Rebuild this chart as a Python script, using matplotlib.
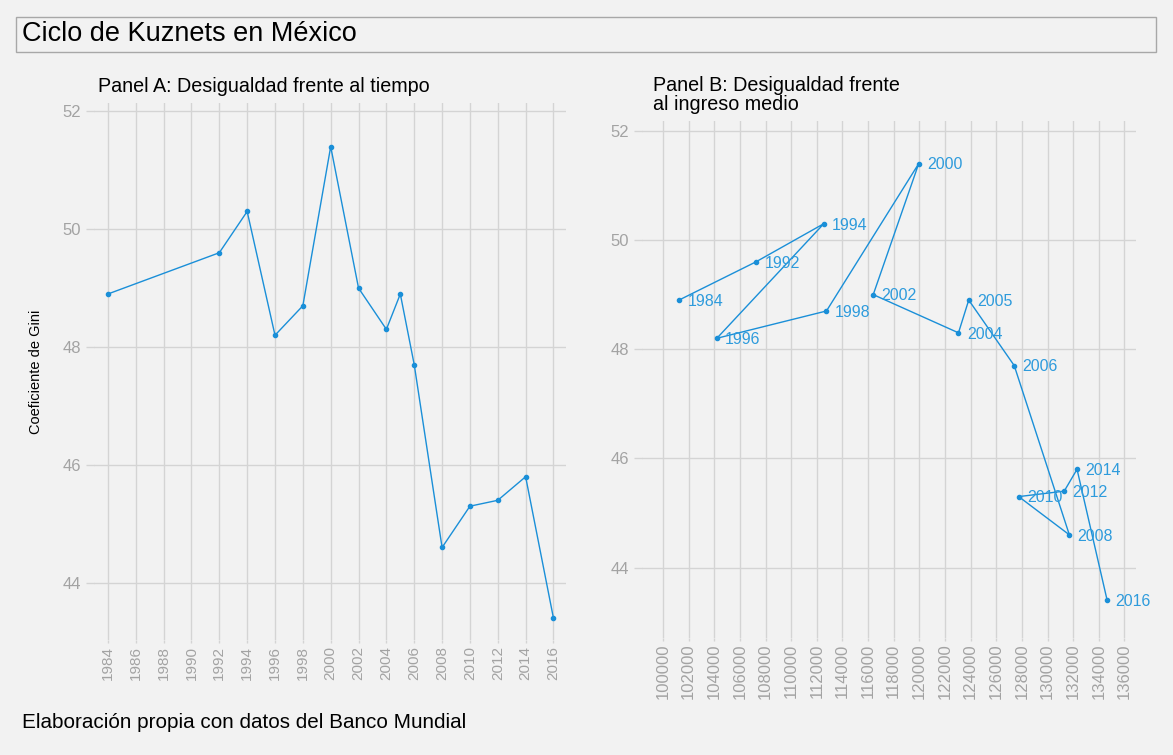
import numpy as np
import matplotlib.pyplot as plt
from matplotlib.patches import Rectangle

# Datos (Banco Mundial)
years = [1984, 1992, 1994, 1996, 1998, 2000, 2002, 2004, 2005, 2006, 2008, 2010, 2012, 2014, 2016]
gini = [48.9, 49.6, 50.3, 48.2, 48.7, 51.4, 49.0, 48.3, 48.9, 47.7, 44.6, 45.3, 45.4, 45.8, 43.4]
ingreso = [101250, 107250, 112550, 104200, 112750, 119950, 116400, 123050, 123850,
           127400, 131700, 127750, 131300, 132300, 134650]

year_ticks = list(range(1984, 2017, 2))
ingreso_ticks = list(range(100000, 136001, 2000))
gini_ticks = [44, 46, 48, 50, 52]

BG = '#F2F2F2'
GRID = '#D4D4D4'
LINE = '#1A8FD8'
LABEL = '#2E9BDC'
TICK = '#A3A3A3'

plt.rcParams['font.family'] = ['Liberation Sans', 'DejaVu Sans']


def style_axes(ax, xsize):
    ax.set_facecolor(BG)
    for s in ax.spines.values():
        s.set_visible(False)
    ax.grid(True, color=GRID, linewidth=1)
    ax.set_axisbelow(True)
    ax.tick_params(colors=GRID, width=1, labelcolor=TICK)
    ax.tick_params(axis='y', labelsize=12, length=6)
    ax.tick_params(axis='x', labelsize=xsize, length=2, pad=2)


fig = plt.figure(figsize=(11.73, 7.55), dpi=100, facecolor=BG)

# Caja del titulo
fig.patches.append(Rectangle((16 / 1173, 1 - 52 / 755), 1140 / 1173, 35 / 755,
                             transform=fig.transFigure, facecolor='none',
                             edgecolor='#A8A8A8', linewidth=1))
fig.text(22 / 1173, 1 - 34 / 755, 'Ciclo de Kuznets en México', fontsize=19.5,
         va='center', ha='left', color='black')

# Panel A
ax1 = fig.add_axes([94 / 1173, 1 - 640 / 755, 472 / 1173, 537 / 755])
ax1.plot(years, gini, color=LINE, linewidth=1, marker='o', markersize=3)
ax1.set_xlim(1983.0, 2016.9)
ax1.set_ylim(43.03, 52.14)
ax1.set_xticks(year_ticks)
ax1.set_xticklabels([str(y) for y in year_ticks], rotation=90)
ax1.set_yticks(gini_ticks)
style_axes(ax1, 11)
ax1.set_ylabel('Coeficiente de Gini', fontsize=10.5, color='black', labelpad=14)
fig.text(98 / 1173, 1 - 86 / 755, 'Panel A: Desigualdad frente al tiempo', fontsize=14.2,
         va='center', ha='left', color='black')

# Panel B
ax2 = fig.add_axes([642 / 1173, 1 - 638 / 755, 494 / 1173, 517 / 755])
ax2.plot(ingreso, gini, color=LINE, linewidth=1, marker='o', markersize=3)
for yr, xv, yv in zip(years, ingreso, gini):
    ax2.annotate(str(yr), (xv, yv), xytext=(6, -1), textcoords='offset points',
                 color=LABEL, fontsize=11.5, va='center', ha='left')
ax2.set_xlim(98360, 136900)
ax2.set_ylim(42.71, 52.18)
ax2.set_xticks(ingreso_ticks)
ax2.set_xticklabels([str(v) for v in ingreso_ticks], rotation=90)
ax2.set_yticks(gini_ticks)
style_axes(ax2, 12)
fig.text(653 / 1173, 1 - 95 / 755, 'Panel B: Desigualdad frente\nal ingreso medio', fontsize=14.2,
         va='center', ha='left', color='black', linespacing=0.95)

fig.text(22 / 1173, 1 - 723 / 755, 'Elaboración propia con datos del Banco Mundial',
         fontsize=14.9, va='center', ha='left', color='black')

fig.savefig('out.png', dpi=100, facecolor=BG)
